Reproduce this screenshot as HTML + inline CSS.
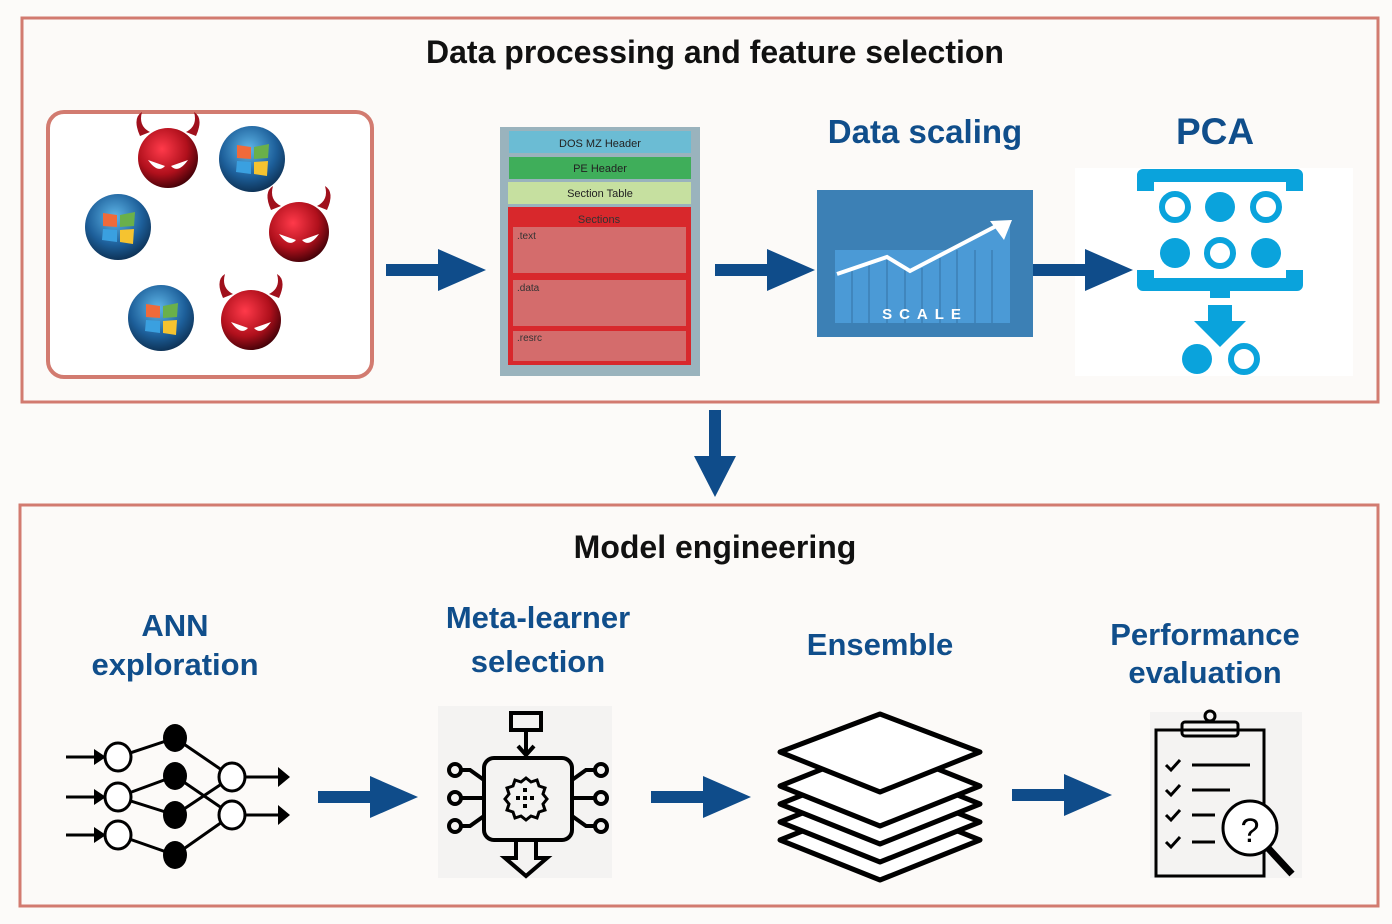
<!DOCTYPE html>
<html><head><meta charset="utf-8"><style>
html,body{margin:0;padding:0;background:#fcfbf9;}
svg{display:block;}
text{font-family:"Liberation Sans",sans-serif;font-weight:bold;}
</style></head><body>
<svg width="1392" height="924" viewBox="0 0 1392 924" xmlns="http://www.w3.org/2000/svg">
<defs>
<radialGradient id="devg" cx="0.4" cy="0.35" r="0.7"><stop offset="0" stop-color="#ff3a4a"/><stop offset="0.6" stop-color="#b0101c"/><stop offset="1" stop-color="#3a0006"/></radialGradient>
<radialGradient id="wing" cx="0.45" cy="0.35" r="0.7"><stop offset="0" stop-color="#5fb6e8"/><stop offset="0.6" stop-color="#1d5f9a"/><stop offset="1" stop-color="#0b2a4a"/></radialGradient>
<g id="devil"><path d="M-28,-22 Q-36,-40 -26,-46 Q-30,-32 -18,-26Z M28,-22 Q36,-40 26,-46 Q30,-32 18,-26Z" fill="#a0101c"/><circle r="30" fill="url(#devg)"/><path d="M-20,2 Q-10,16 -3,8 Z M20,2 Q10,16 3,8 Z" fill="#fff"/></g>
<g id="winlogo"><circle r="33" fill="url(#wing)"/><path d="M-15,-14 L-1,-12 L-1,0 L-15,-1Z" fill="#f06a3a"/><path d="M2,-12 L17,-15 L16,-1 L2,0Z" fill="#6ab04a"/><path d="M-15,2 L-1,3 L-1,15 L-16,13Z" fill="#3aa0e0"/><path d="M2,3 L16,2 L15,17 L2,15Z" fill="#f5c330"/></g>
<g id="arr"><rect x="0" y="-6" width="55" height="12" fill="#0f4c8a"/><path d="M52,-21 L100,0 L52,21Z" fill="#0f4c8a"/></g>
</defs>
<rect x="22" y="18" width="1356" height="384" fill="#fcfaf8" stroke="#d27b70" stroke-width="3"/>
<text x="715" y="63" font-size="32" text-anchor="middle" fill="#111">Data processing and feature selection</text>
<rect x="48" y="112" width="324" height="265" rx="16" fill="#fff" stroke="#d27b70" stroke-width="4"/>
<use href="#devil" x="168" y="158"/><use href="#winlogo" x="252" y="159"/><use href="#winlogo" x="118" y="227"/><use href="#devil" x="299" y="232"/><use href="#winlogo" x="161" y="318"/><use href="#devil" x="251" y="320"/>
<use href="#arr" x="386" y="270"/>
<rect x="500" y="127" width="200" height="249" fill="#9ab3bd"/>
<rect x="509" y="131" width="182" height="22" fill="#6bbcd4"/><text x="600" y="147" font-size="11" text-anchor="middle" fill="#222" style="font-weight:normal">DOS MZ Header</text>
<rect x="509" y="157" width="182" height="22" fill="#3fae5a"/><text x="600" y="172" font-size="11" text-anchor="middle" fill="#222" style="font-weight:normal">PE Header</text>
<rect x="508" y="182" width="183" height="22" fill="#c6e0a0"/><text x="600" y="197" font-size="11" text-anchor="middle" fill="#222" style="font-weight:normal">Section Table</text>
<rect x="508" y="207" width="183" height="158" fill="#d8282c"/><text x="599" y="223" font-size="11" text-anchor="middle" fill="#333" style="font-weight:normal">Sections</text>
<rect x="513" y="227" width="173" height="46" fill="#d46c6c"/><text x="517" y="239" font-size="10" fill="#333" style="font-weight:normal">.text</text>
<rect x="513" y="280" width="173" height="46" fill="#d46c6c"/><text x="517" y="291" font-size="10" fill="#333" style="font-weight:normal">.data</text>
<rect x="513" y="331" width="173" height="30" fill="#d46c6c"/><text x="517" y="341" font-size="10" fill="#333" style="font-weight:normal">.resrc</text>
<use href="#arr" x="715" y="270"/>
<text x="925" y="143" font-size="33" text-anchor="middle" fill="#104e8b">Data scaling</text>
<rect x="817" y="190" width="216" height="147" fill="#3c80b5"/>
<rect x="835" y="250" width="175" height="73" fill="#4b9ad6"/>
<g stroke="#3c80b5" stroke-width="1.5"><line x1="852" y1="265" x2="852" y2="323"/><line x1="869" y1="262" x2="869" y2="323"/><line x1="887" y1="258" x2="887" y2="323"/><line x1="905" y1="262" x2="905" y2="323"/><line x1="922" y1="268" x2="922" y2="323"/><line x1="940" y1="258" x2="940" y2="323"/><line x1="957" y1="246" x2="957" y2="323"/><line x1="975" y1="238" x2="975" y2="323"/><line x1="992" y1="228" x2="992" y2="323"/></g>
<rect x="817" y="190" width="216" height="60" fill="#3c80b5"/>
<path d="M835,250 L835,275 L887,258 L910,272 L990,228 L1010,222 L1010,250" fill="#4b9ad6"/>
<polyline points="837,274 887,257 910,271 1000,224" fill="none" stroke="#fff" stroke-width="4"/>
<path d="M990,221 L1012,220 L1004,240Z" fill="#fff"/>
<text x="925" y="319" font-size="15" text-anchor="middle" fill="#fff" letter-spacing="7">SCALE</text>
<rect x="1075" y="168" width="278" height="208" fill="#fff"/>
<use href="#arr" x="1033" y="270"/>
<text x="1215" y="144" font-size="37" text-anchor="middle" fill="#104e8b">PCA</text>
<g fill="#0aa3dc"><path d="M1137,175 a6,6 0 0 1 6,-6 H1297 a6,6 0 0 1 6,6 V191 H1286 V182 H1154 V191 H1137Z"/>
<path d="M1137,270 H1154 V278 H1286 V270 H1303 V285 a6,6 0 0 1 -6,6 H1143 a6,6 0 0 1 -6,-6Z"/>
<rect x="1210" y="291" width="20" height="7"/><rect x="1208" y="305" width="24" height="16"/><path d="M1194,321 H1246 L1220,347Z"/>
<circle cx="1220" cy="207" r="15"/><circle cx="1175" cy="253" r="15"/><circle cx="1266" cy="253" r="15"/><circle cx="1197" cy="359" r="15"/></g>
<g fill="none" stroke="#0aa3dc" stroke-width="6"><circle cx="1175" cy="207" r="13"/><circle cx="1266" cy="207" r="13"/><circle cx="1220" cy="253" r="13"/><circle cx="1244" cy="359" r="13"/></g>
<path d="M715,410 V460" stroke="#0f4c8a" stroke-width="12"/><path d="M694,456 L736,456 L715,497Z" fill="#0f4c8a"/>
<rect x="20" y="505" width="1358" height="401" fill="#fcfaf8" stroke="#d27b70" stroke-width="3"/>
<text x="715" y="558" font-size="32" text-anchor="middle" fill="#111">Model engineering</text>
<g font-size="31" fill="#104e8b" text-anchor="middle"><text x="175" y="636">ANN</text><text x="175" y="675">exploration</text><text x="538" y="628">Meta-learner</text><text x="538" y="672">selection</text><text x="880" y="655">Ensemble</text><text x="1205" y="645">Performance</text><text x="1205" y="683">evaluation</text></g>
<g stroke="#000" stroke-width="3" fill="none"><line x1="66" y1="757" x2="104" y2="757"/><line x1="66" y1="797" x2="104" y2="797"/><line x1="66" y1="835" x2="104" y2="835"/>
<line x1="118" y1="757" x2="175" y2="738"/><line x1="118" y1="797" x2="175" y2="776"/><line x1="118" y1="797" x2="175" y2="815"/><line x1="118" y1="835" x2="175" y2="855"/>
<line x1="175" y1="738" x2="232" y2="777"/><line x1="175" y1="776" x2="232" y2="815"/><line x1="175" y1="815" x2="232" y2="777"/><line x1="175" y1="855" x2="232" y2="815"/>
<line x1="232" y1="777" x2="280" y2="777"/><line x1="232" y1="815" x2="280" y2="815"/></g>
<g fill="#000"><path d="M94,749 L106,757 L94,765Z M94,789 L106,797 L94,805Z M94,827 L106,835 L94,843Z M278,767 L290,777 L278,787Z M278,805 L290,815 L278,825Z"/>
<ellipse cx="175" cy="738" rx="12" ry="14"/><ellipse cx="175" cy="776" rx="12" ry="14"/><ellipse cx="175" cy="815" rx="12" ry="14"/><ellipse cx="175" cy="855" rx="12" ry="14"/></g>
<g fill="#fff" stroke="#000" stroke-width="3"><ellipse cx="118" cy="757" rx="13" ry="14"/><ellipse cx="118" cy="797" rx="13" ry="14"/><ellipse cx="118" cy="835" rx="13" ry="14"/><ellipse cx="232" cy="777" rx="13" ry="14"/><ellipse cx="232" cy="815" rx="13" ry="14"/></g>
<use href="#arr" x="318" y="797"/>
<rect x="438" y="706" width="174" height="172" fill="#f4f3f2"/>
<g stroke="#000" stroke-width="4" fill="none"><rect x="484" y="758" width="88" height="82" rx="10"/><rect x="511" y="713" width="30" height="17"/><line x1="526" y1="730" x2="526" y2="755"/><path d="M518,746 L526,755 L534,746"/>
<path d="M516,840 V858 H505 L526,876 L547,858 H536 V840"/>
<line x1="484" y1="798" x2="462" y2="798"/><path d="M484,780 L470,770 H462"/><path d="M484,816 L470,826 H462"/>
<line x1="572" y1="798" x2="594" y2="798"/><path d="M572,780 L586,770 H594"/><path d="M572,816 L586,826 H594"/>
<circle cx="455" cy="798" r="6"/><circle cx="455" cy="770" r="6"/><circle cx="455" cy="826" r="6"/><circle cx="601" cy="798" r="6"/><circle cx="601" cy="770" r="6"/><circle cx="601" cy="826" r="6"/>
<path d="M526,778 l5,4 6,-2 2,6 6,2 -2,6 4,5 -4,5 2,6 -6,2 -2,6 -6,-2 -5,4 -5,-4 -6,2 -2,-6 -6,-2 2,-6 -4,-5 4,-5 -2,-6 6,-2 2,-6 6,2Z" stroke-width="3"/></g>
<g fill="#000"><rect x="523" y="788" width="4" height="4"/><rect x="516" y="796" width="4" height="4"/><rect x="523" y="796" width="4" height="4"/><rect x="530" y="796" width="4" height="4"/><rect x="523" y="804" width="4" height="4"/></g>
<use href="#arr" x="651" y="797"/>
<g fill="#fff" stroke="#000" stroke-width="5" stroke-linejoin="round">
<path d="M780,840 L880,800 L980,840 L880,880Z"/><path d="M780,822 L880,782 L980,822 L880,862Z"/><path d="M780,804 L880,764 L980,804 L880,844Z"/><path d="M780,786 L880,746 L980,786 L880,826Z"/><path d="M780,752 L880,714 L980,752 L880,792Z"/></g>
<use href="#arr" x="1012" y="795"/>
<rect x="1150" y="712" width="152" height="166" fill="#f4f3f2"/>
<g stroke="#000" stroke-width="3" fill="none"><rect x="1156" y="730" width="108" height="146"/><rect x="1182" y="722" width="56" height="14" rx="3"/><circle cx="1210" cy="716" r="5"/>
<path d="M1166,765 l5,5 9,-10 M1166,790 l5,5 9,-10 M1166,815 l5,5 9,-10 M1166,842 l5,5 9,-10"/>
<line x1="1192" y1="765" x2="1250" y2="765"/><line x1="1192" y1="790" x2="1230" y2="790"/><line x1="1192" y1="815" x2="1215" y2="815"/><line x1="1192" y1="842" x2="1215" y2="842"/>
<circle cx="1250" cy="828" r="27" fill="#fff"/><path d="M1268,848 L1292,874" stroke-width="7"/></g>
<text x="1250" y="842" font-size="34" text-anchor="middle" fill="#000" style="font-weight:normal">?</text>
</svg>
</body></html>
